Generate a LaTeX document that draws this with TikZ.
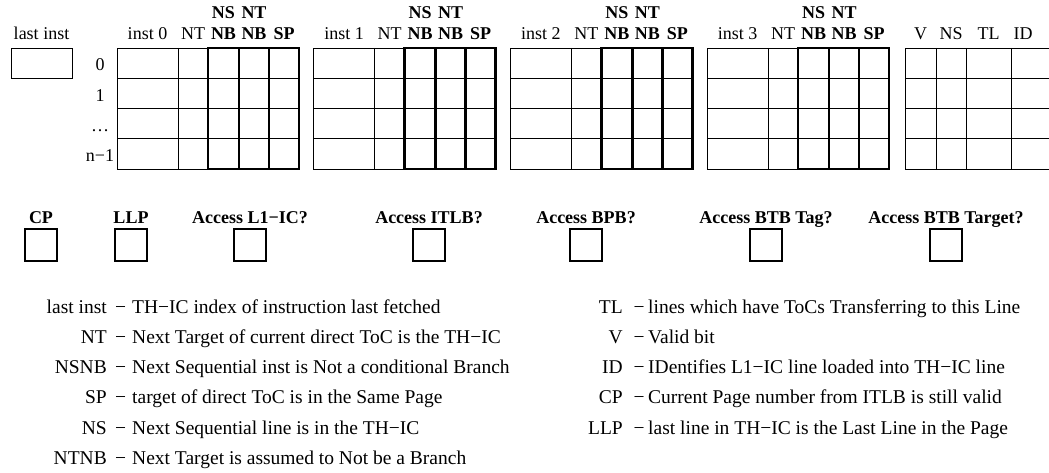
\documentclass[tikz,border=0pt]{standalone}
\usepackage{fontspec}
\setmainfont{Liberation Serif}
\begin{document}
\begin{tikzpicture}[x=1pt,y=-1pt,
  thinln/.style={line width=0.8pt},
  thickln/.style={line width=2.6pt},
  lbl/.style={font=\fontsize{18}{20}\selectfont, inner sep=0pt, anchor=base},
  blbl/.style={lbl, font=\fontsize{18}{20}\selectfont\bfseries},
  leg/.style={font=\fontsize{19.5}{22}\selectfont, inner sep=0pt},
  checkbox/.style={draw, line width=2.6pt, minimum size=32pt, inner sep=0pt},
]
\useasboundingbox (0,0) rectangle (1049,473);
\clip (0,0) rectangle (1049,473);

% last inst register
\node[lbl] (lastlbl) at (41.5,40) {last inst};
\node[draw, thinln, minimum width=61pt, minimum height=30pt, inner sep=0pt] (lastbox) at (41.5,63) {};

% row indices
\node[lbl] (r0) at (100,71) {0};
\node[lbl] (r1) at (100,101.5) {1};
\node[lbl] (r2) at (100,132) {\dots};
\node[lbl] (r3) at (100,162) {n−1};

% per-instruction tables
\foreach \g in {0,...,3} {
  \pgfmathsetmacro\gx{117+196.7*\g}
  \draw[thinln] (\gx,48) rectangle ++(182,121.2);
  \foreach \r in {1,2,3} \draw[thinln] (\gx,48+30.3*\r) -- ++(182,0);
  \draw[thinln] (\gx+61,48) -- ++(0,121.2);
  \draw[thickln] (\gx+91,48) rectangle ++(91,121.2);
  \draw[thickln] (\gx+122,48) -- ++(0,121.2) (\gx+152,48) -- ++(0,121.2);
  \node[lbl]  (inst\g) at (\gx+30.5,40) {inst \g};
  \node[lbl]  (nt\g)   at (\gx+76,40) {NT};
  \node[blbl] (nsnb\g) at (\gx+106.5,40) {NB};
  \node[blbl] (ntnb\g) at (\gx+137,40) {NB};
  \node[blbl] (sp\g)   at (\gx+167,40) {SP};
  \node[blbl] (ns\g)   at (\gx+106.5,18.5) {NS};
  \node[blbl] (ntt\g)  at (\gx+137,18.5) {NT};
}

% line metadata table
\draw[thinln] (905,48) rectangle (1070,169.2);
\foreach \r in {1,2,3} \draw[thinln] (905,48+30.3*\r) -- (1070,48+30.3*\r);
\foreach \c in {936,966,1011} \draw[thinln] (\c,48) -- (\c,169.2);
\node[lbl] (vlbl)  at (920.5,40) {V};
\node[lbl] (nslbl) at (951,40) {NS};
\node[lbl] (tllbl) at (988.5,40) {TL};
\node[lbl] (idlbl) at (1023,40) {ID};

% status flags
\foreach \n/\cx/\t in {cp/41/CP, llp/131/LLP, l1/250/Access L1−IC?, itlb/429/Access ITLB?,
                       bpb/586/Access BPB?, btbtag/766/Access BTB Tag?, btbtgt/946/Access BTB Target?} {
  \node[blbl] (\n lbl) at (\cx,223.3) {\t};
  \node[checkbox] (\n box) at (\cx,245) {};
}

% legend, left column
\foreach \k/\key/\desc [count=\i from 0] in {
  a/last inst/TH−IC index of instruction last fetched,
  b/NT/Next Target of current direct ToC is the TH−IC,
  c/NSNB/Next Sequential inst is Not a conditional Branch,
  d/SP/target of direct ToC is in the Same Page,
  e/NS/Next Sequential line is in the TH−IC,
  f/NTNB/Next Target is assumed to Not be a Branch} {
  \pgfmathsetmacro\by{313+30.25*\i}
  \node[leg, anchor=base east] (lk\k) at (107,\by) {\key};
  \node[leg, anchor=base] (ld\k) at (120.5,\by) {−};
  \node[leg, anchor=base west] (lt\k) at (132,\by) {\desc};
}

% legend, right column
\foreach \k/\key/\desc [count=\i from 0] in {
  a/TL/lines which have ToCs Transferring to this Line,
  b/V/Valid bit,
  c/ID/IDentifies L1−IC line loaded into TH−IC line,
  d/CP/Current Page number from ITLB is still valid,
  e/LLP/last line in TH−IC is the Last Line in the Page} {
  \pgfmathsetmacro\by{313+30.25*\i}
  \node[leg, anchor=base east] (rk\k) at (623,\by) {\key};
  \node[leg, anchor=base] (rd\k) at (639,\by) {−};
  \node[leg, anchor=base west] (rt\k) at (648,\by) {\desc};
}
\end{tikzpicture}
\end{document}
